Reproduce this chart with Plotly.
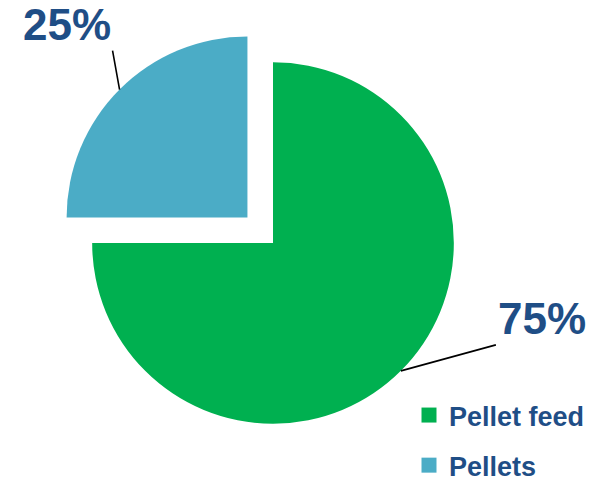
import math
import plotly.graph_objects as go

# ---- data ----
labels = ["Pellet feed", "Pellets"]
values = [75, 25]
colors = ["#00B050", "#4BACC6"]
pulls = [0, 0.2]

# ---- layout constants ----
W, H = 590, 478
CX, CY, HALF = 273, 243, 217
TEXT_COLOR = "#1F4E86"
FONT = "Liberation Sans, Arial, sans-serif"

domain_x = [(CX - HALF) / W, (CX + HALF) / W]
domain_y = [1 - (CY + HALF) / H, 1 - (CY - HALF) / H]

fig = go.Figure()
fig.add_trace(go.Pie(
    labels=labels, values=values,
    marker=dict(colors=colors, line=dict(width=0)),
    pull=pulls, sort=False, direction="clockwise", rotation=0,
    textinfo="none", hoverinfo="label+percent", showlegend=False,
    domain=dict(x=domain_x, y=domain_y),
))

# legend entries (square markers), one group each so the gap can be set
for lab, col in zip(labels, colors):
    fig.add_trace(go.Scatter(
        x=[None], y=[None], mode="markers", name=lab, legendgroup=lab,
        marker=dict(symbol="square", size=15, color=col),
        showlegend=True, hoverinfo="skip",
    ))

# percentage labels with leader lines, anchored at slice mid-angles
r = HALF / (1 + max(pulls))
total = sum(values)
label_style = [
    dict(ax=95, ay=-26, xanchor="left", yanchor="bottom"),
    dict(ax=-7, ay=-39, xanchor="right", yanchor="bottom"),
]
start = 0.0
annotations = []
for v, p, st in zip(values, pulls, label_style):
    mid = (start + v / 2) / total
    start += v
    th = 2 * math.pi * mid
    dx, dy = math.sin(th), -math.cos(th)
    tx = CX + (p * r + r) * dx
    ty = CY + (p * r + r) * dy
    annotations.append(dict(
        x=tx / W, y=1 - ty / H, xref="paper", yref="paper",
        text=f"{round(v / total * 100)}%", showarrow=True,
        arrowhead=0, arrowwidth=1.6, arrowcolor="#000000", standoff=0,
        font=dict(family=FONT, size=44, color=TEXT_COLOR, weight="bold"),
        **st,
    ))

fig.update_layout(
    width=W, height=H,
    margin=dict(l=0, r=0, t=0, b=0, autoexpand=False),
    paper_bgcolor="white", plot_bgcolor="white",
    xaxis=dict(visible=False), yaxis=dict(visible=False),
    annotations=annotations,
    legend=dict(
        x=409 / W, y=1 - 391 / H, xanchor="left", yanchor="top",
        font=dict(family=FONT, size=27, color=TEXT_COLOR, weight="bold"),
        tracegroupgap=12, itemwidth=30, bgcolor="rgba(0,0,0,0)",
    ),
)

fig.write_html(
    "out.html",
    config={"displayModeBar": False},
    post_script="document.body.style.margin='0';document.body.style.overflow='hidden';",
)
